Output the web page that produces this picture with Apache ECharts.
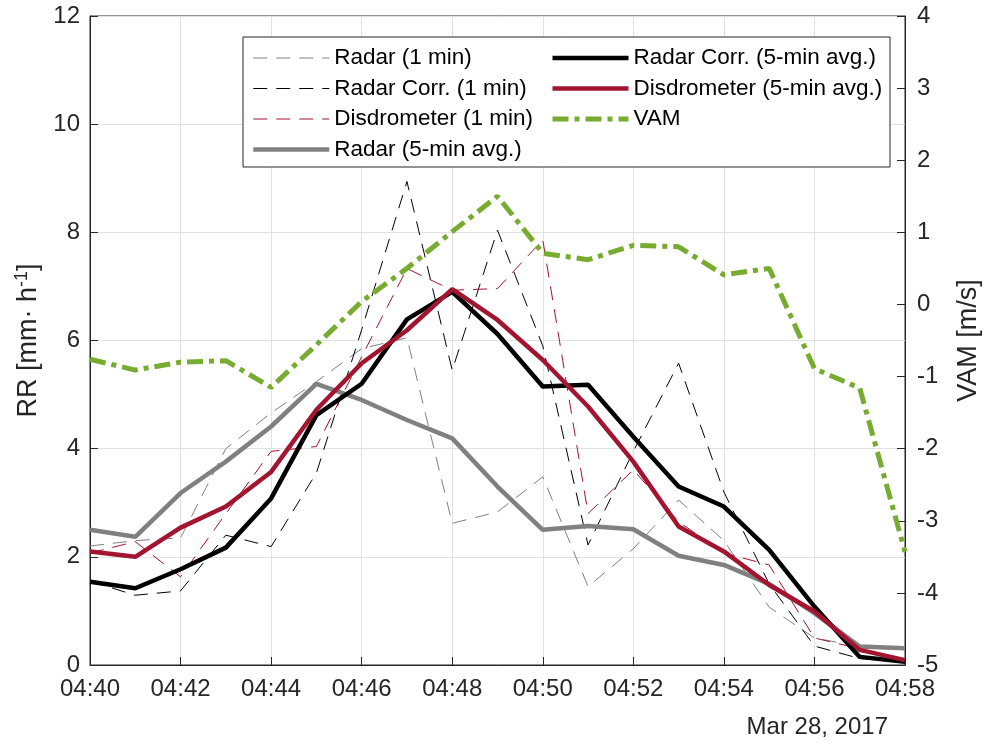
<!DOCTYPE html>
<html>
<head>
<meta charset="utf-8">
<script src="https://cdn.jsdelivr.net/npm/echarts@6/dist/echarts.min.js"></script>
<style>
  html, body { margin: 0; padding: 0; background: #fff; }
  #chart { width: 990px; height: 745px; }
</style>
</head>
<body>
<div id="chart"></div>
<script>
// One-minute time steps, 28 March 2017
const times = ['04:40','04:41','04:42','04:43','04:44','04:45','04:46','04:47','04:48','04:49',
               '04:50','04:51','04:52','04:53','04:54','04:55','04:56','04:57','04:58'];

// Rain rate [mm/h], 1-min values
const radar1     = [2.20, 2.30, 2.35, 4.00, 4.66, 5.24, 5.85, 6.05, 2.62, 2.83, 3.48, 1.45, 2.15, 3.05, 2.30, 1.07, 0.50, 0.34, 0.30];
const radarCorr1 = [1.55, 1.29, 1.37, 2.40, 2.19, 3.55, 6.20, 8.94, 5.45, 8.04, 5.90, 2.22, 3.95, 5.58, 3.20, 1.50, 0.35, 0.12, 0.05];
const disdro1    = [2.07, 2.28, 1.63, 2.80, 3.95, 4.04, 5.70, 7.33, 6.93, 6.96, 7.86, 2.80, 3.61, 2.65, 2.07, 1.85, 0.50, 0.30, 0.10];

// Rain rate [mm/h], 5-min running averages
const radar5     = [2.50, 2.37, 3.18, 3.76, 4.41, 5.20, 4.90, 4.53, 4.19, 3.30, 2.50, 2.57, 2.51, 2.02, 1.85, 1.50, 0.96, 0.34, 0.31];
const radarCorr5 = [1.54, 1.42, 1.77, 2.17, 3.08, 4.62, 5.20, 6.39, 6.90, 6.12, 5.15, 5.18, 4.22, 3.30, 2.93, 2.13, 1.08, 0.15, 0.06];
const disdro5    = [2.10, 2.00, 2.54, 2.93, 3.57, 4.72, 5.58, 6.19, 6.95, 6.38, 5.64, 4.78, 3.76, 2.56, 2.10, 1.48, 0.99, 0.28, 0.09];

// Vertical air motion [m/s]
const vam        = [-0.76, -0.91, -0.80, -0.78, -1.15, -0.56, 0.04, 0.50, 1.01, 1.50, 0.71, 0.62, 0.82, 0.80, 0.41, 0.50, -0.89, -1.16, -3.43];

const FONT = "'Liberation Sans', Arial, Helvetica, sans-serif";
const AX = '#262626';
const GRID = '#e1e1e1';
const GRAY = '#808080';
const RED = '#a2142f';
const GREEN = '#77ac30';
const DASH = [14, 9];
const DASHDOT = [16, 6, 5, 6];
const THIN = 1, THICK = 4.5, VAM_W = 5;

function line(name, data, color, width, type, yAxisIndex) {
  return {
    name: name, type: 'line', data: data, yAxisIndex: yAxisIndex || 0,
    symbol: 'none', showSymbol: false, animation: false,
    lineStyle: { color: color, width: width, type: type },
    itemStyle: { color: color }
  };
}

// legend entry: keep the full line width of the series in the sample
function entry(name, width) {
  return { name: name, lineStyle: { width: width } };
}

const chart = echarts.init(document.getElementById('chart'), null, { renderer: 'canvas' });

const legendText = { fontFamily: FONT, fontSize: 22.5, color: '#000', lineHeight: 24 };
// legend samples show the line only, no marker
const legendMarker = { color: 'transparent', borderWidth: 0, opacity: 0 };

chart.setOption({
  animation: false,
  backgroundColor: '#fff',
  textStyle: { fontFamily: FONT },
  grid: {
    left: 90, right: 80, top: 16, bottom: 80,
    show: true, borderColor: AX, borderWidth: 1, backgroundColor: '#fff'
  },
  legend: [
    {
      orient: 'vertical', left: 251, top: 46, padding: 0,
      itemWidth: 76, itemHeight: 14, itemGap: 6.5,
      itemStyle: legendMarker,
      textStyle: legendText,
      data: [entry('Radar (1 min)', THIN), entry('Radar Corr. (1 min)', THIN),
             entry('Disdrometer (1 min)', THIN), entry('Radar (5-min avg.)', THICK)]
    },
    {
      orient: 'vertical', left: 550, top: 46, padding: 0,
      itemWidth: 76, itemHeight: 14, itemGap: 6.5,
      itemStyle: legendMarker,
      textStyle: legendText,
      data: [entry('Radar Corr. (5-min avg.)', THICK), entry('Disdrometer (5-min avg.)', THICK),
             entry('VAM', VAM_W)]
    }
  ],
  graphic: [
    {
      type: 'rect', z: 3,
      shape: { x: 243, y: 37, width: 647, height: 130 },
      style: { fill: '#fff', stroke: AX, lineWidth: 1 }
    },
    {
      type: 'text', z: 5, x: 888, y: 727,
      style: {
        text: 'Mar 28, 2017', font: '24px ' + FONT, fill: AX,
        align: 'right', verticalAlign: 'middle', textAlign: 'right', textVerticalAlign: 'middle'
      }
    }
  ],
  xAxis: {
    type: 'category', data: times, boundaryGap: false,
    axisLine: { show: true, lineStyle: { color: AX, width: 1 } },
    axisTick: { show: true, inside: true, length: 8, interval: 1, lineStyle: { color: AX } },
    axisLabel: { interval: 1, fontSize: 24, color: AX, margin: 12, fontFamily: FONT },
    splitLine: { show: true, interval: 1, lineStyle: { color: GRID, width: 1 } }
  },
  yAxis: [
    {
      type: 'value', min: 0, max: 12, interval: 2, position: 'left',
      name: '{a|RR [mm· h}{s|-1}{a|]}',
      nameLocation: 'middle', nameGap: 43, nameRotate: 90,
      nameTextStyle: {
        rich: {
          a: { fontSize: 27, fontFamily: FONT, color: AX, lineHeight: 31 },
          s: { fontSize: 18, fontFamily: FONT, color: AX, verticalAlign: 'top', lineHeight: 19 }
        }
      },
      axisLine: { show: true, lineStyle: { color: AX, width: 1 } },
      axisTick: { show: true, inside: true, length: 8, lineStyle: { color: AX } },
      axisLabel: { fontSize: 24, color: AX, margin: 10, fontFamily: FONT },
      splitLine: { show: true, lineStyle: { color: GRID, width: 1 } }
    },
    {
      type: 'value', min: -5, max: 4, interval: 1, position: 'right',
      name: 'VAM [m/s]', nameLocation: 'middle', nameGap: 50, nameRotate: 90,
      nameTextStyle: { fontSize: 27, fontFamily: FONT, color: AX },
      axisLine: { show: true, lineStyle: { color: AX, width: 1 } },
      axisTick: { show: true, inside: true, length: 8, lineStyle: { color: AX } },
      axisLabel: { fontSize: 24, color: AX, margin: 12, fontFamily: FONT },
      splitLine: { show: false }
    }
  ],
  series: [
    line('Radar (1 min)', radar1, GRAY, THIN, DASH),
    line('Radar Corr. (1 min)', radarCorr1, '#000', THIN, DASH),
    line('Disdrometer (1 min)', disdro1, RED, THIN, DASH),
    line('Radar (5-min avg.)', radar5, GRAY, THICK, 'solid'),
    line('Radar Corr. (5-min avg.)', radarCorr5, '#000', THICK, 'solid'),
    line('Disdrometer (5-min avg.)', disdro5, RED, THICK, 'solid'),
    line('VAM', vam, GREEN, VAM_W, DASHDOT, 1)
  ]
});
</script>
</body>
</html>
